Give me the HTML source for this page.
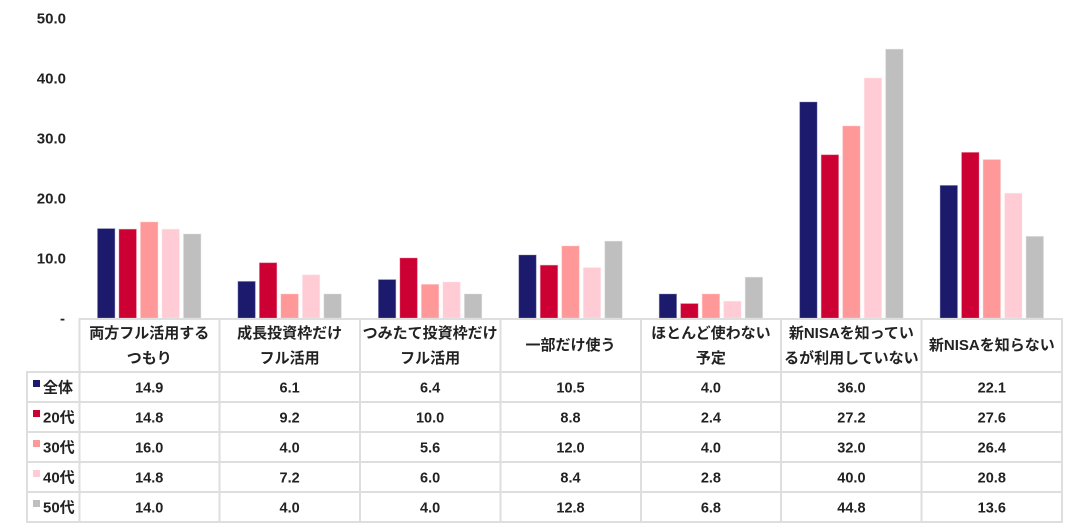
<!DOCTYPE html>
<html><head><meta charset="utf-8"><style>
html,body{margin:0;padding:0;background:#fff;}
svg{display:block;}
text{font-family:"Liberation Sans","Noto Sans CJK JP",sans-serif;font-weight:bold;fill:#222;}
</style></head><body>
<svg width="1080" height="531" viewBox="0 0 1080 531" xmlns="http://www.w3.org/2000/svg">
<!-- y axis labels -->
<g font-size="15" text-anchor="end">
<text x="66" y="23.5">50.0</text>
<text x="66" y="83.5">40.0</text>
<text x="66" y="143.5">30.0</text>
<text x="66" y="203.5">20.0</text>
<text x="66" y="263.5">10.0</text>
<text x="65" y="323.5">-</text>
</g>
<!-- bars -->
<g id="bars" stroke-width="0.8" stroke-opacity="0.5">
<!-- group 1 cx=149.2 -->
<rect x="97.5" y="228.6" width="17.4" height="89.4" fill="#1b1a6c" stroke="#8a8ab8"/>
<rect x="119" y="229.2" width="17.4" height="88.8" fill="#cc0033" stroke="#e87a94"/>
<rect x="140.5" y="222" width="17.4" height="96" fill="#ff9999" stroke="#ffc4c4"/>
<rect x="162" y="229.2" width="17.4" height="88.8" fill="#ffccd6" stroke="#ffe4ea"/>
<rect x="183.5" y="234" width="17.4" height="84" fill="#bfbfbf" stroke="#dcdcdc"/>
<!-- group 2 cx=289.6 -->
<rect x="237.9" y="281.4" width="17.4" height="36.6" fill="#1b1a6c" stroke="#8a8ab8"/>
<rect x="259.4" y="262.8" width="17.4" height="55.2" fill="#cc0033" stroke="#e87a94"/>
<rect x="280.9" y="294" width="17.4" height="24" fill="#ff9999" stroke="#ffc4c4"/>
<rect x="302.4" y="274.8" width="17.4" height="43.2" fill="#ffccd6" stroke="#ffe4ea"/>
<rect x="323.9" y="294" width="17.4" height="24" fill="#bfbfbf" stroke="#dcdcdc"/>
<!-- group 3 cx=430.1 -->
<rect x="378.4" y="279.6" width="17.4" height="38.4" fill="#1b1a6c" stroke="#8a8ab8"/>
<rect x="399.9" y="258" width="17.4" height="60" fill="#cc0033" stroke="#e87a94"/>
<rect x="421.4" y="284.4" width="17.4" height="33.6" fill="#ff9999" stroke="#ffc4c4"/>
<rect x="442.9" y="282" width="17.4" height="36" fill="#ffccd6" stroke="#ffe4ea"/>
<rect x="464.4" y="294" width="17.4" height="24" fill="#bfbfbf" stroke="#dcdcdc"/>
<!-- group 4 cx=570.5 -->
<rect x="518.8" y="255" width="17.4" height="63" fill="#1b1a6c" stroke="#8a8ab8"/>
<rect x="540.3" y="265.2" width="17.4" height="52.8" fill="#cc0033" stroke="#e87a94"/>
<rect x="561.8" y="246" width="17.4" height="72" fill="#ff9999" stroke="#ffc4c4"/>
<rect x="583.3" y="267.6" width="17.4" height="50.4" fill="#ffccd6" stroke="#ffe4ea"/>
<rect x="604.8" y="241.2" width="17.4" height="76.8" fill="#bfbfbf" stroke="#dcdcdc"/>
<!-- group 5 cx=710.9 -->
<rect x="659.2" y="294" width="17.4" height="24" fill="#1b1a6c" stroke="#8a8ab8"/>
<rect x="680.7" y="303.6" width="17.4" height="14.4" fill="#cc0033" stroke="#e87a94"/>
<rect x="702.2" y="294" width="17.4" height="24" fill="#ff9999" stroke="#ffc4c4"/>
<rect x="723.7" y="301.2" width="17.4" height="16.8" fill="#ffccd6" stroke="#ffe4ea"/>
<rect x="745.2" y="277.2" width="17.4" height="40.8" fill="#bfbfbf" stroke="#dcdcdc"/>
<!-- group 6 cx=851.4 -->
<rect x="799.7" y="102" width="17.4" height="216" fill="#1b1a6c" stroke="#8a8ab8"/>
<rect x="821.2" y="154.8" width="17.4" height="163.2" fill="#cc0033" stroke="#e87a94"/>
<rect x="842.7" y="126" width="17.4" height="192" fill="#ff9999" stroke="#ffc4c4"/>
<rect x="864.2" y="78" width="17.4" height="240" fill="#ffccd6" stroke="#ffe4ea"/>
<rect x="885.7" y="49.2" width="17.4" height="268.8" fill="#bfbfbf" stroke="#dcdcdc"/>
<!-- group 7 cx=991.8 -->
<rect x="940.1" y="185.4" width="17.4" height="132.6" fill="#1b1a6c" stroke="#8a8ab8"/>
<rect x="961.6" y="152.4" width="17.4" height="165.6" fill="#cc0033" stroke="#e87a94"/>
<rect x="983.1" y="159.6" width="17.4" height="158.4" fill="#ff9999" stroke="#ffc4c4"/>
<rect x="1004.6" y="193.2" width="17.4" height="124.8" fill="#ffccd6" stroke="#ffe4ea"/>
<rect x="1026.1" y="236.4" width="17.4" height="81.6" fill="#bfbfbf" stroke="#dcdcdc"/>
</g>
<!-- table grid -->
<g stroke="#dedede" stroke-width="2" fill="none">
<line x1="79" y1="319" x2="1062" y2="319"/>
<line x1="27" y1="372" x2="1062" y2="372"/>
<line x1="27" y1="402" x2="1062" y2="402"/>
<line x1="27" y1="432" x2="1062" y2="432"/>
<line x1="27" y1="462" x2="1062" y2="462"/>
<line x1="27" y1="492" x2="1062" y2="492"/>
<line x1="27" y1="522" x2="1062" y2="522"/>
<line x1="27" y1="371" x2="27" y2="523"/>
<line x1="79.5" y1="318" x2="79.5" y2="523"/>
<line x1="219.5" y1="318" x2="219.5" y2="523"/>
<line x1="360" y1="318" x2="360" y2="523"/>
<line x1="500.5" y1="318" x2="500.5" y2="523"/>
<line x1="641" y1="318" x2="641" y2="523"/>
<line x1="781" y1="318" x2="781" y2="523"/>
<line x1="921.5" y1="318" x2="921.5" y2="523"/>
<line x1="1062" y1="318" x2="1062" y2="523"/>
</g>
<!-- headers -->
<g font-size="15" text-anchor="middle">
<text x="149.2" y="338">両方フル活用する</text>
<text x="149.2" y="363">つもり</text>
<text x="289.6" y="338">成長投資枠だけ</text>
<text x="289.6" y="363">フル活用</text>
<text x="430.1" y="338">つみたて投資枠だけ</text>
<text x="430.1" y="363">フル活用</text>
<text x="570.5" y="350">一部だけ使う</text>
<text x="710.9" y="338">ほとんど使わない</text>
<text x="710.9" y="363">予定</text>
<text x="851.4" y="338">新NISAを知ってい</text>
<text x="851.4" y="363">るが利用していない</text>
<text x="991.8" y="350">新NISAを知らない</text>
</g>
<!-- legend -->
<rect x="33" y="380" width="7" height="7" fill="#1b1a6c"/>
<rect x="33" y="410" width="7" height="7" fill="#cc0033"/>
<rect x="33" y="440" width="7" height="7" fill="#ff9999"/>
<rect x="33" y="470" width="7" height="7" fill="#ffccd6"/>
<rect x="33" y="500" width="7" height="7" fill="#bfbfbf"/>
<g font-size="15">
<text x="43" y="392.5">全体</text>
<text x="43" y="422.5">20代</text>
<text x="43" y="452.5">30代</text>
<text x="43" y="482.5">40代</text>
<text x="43" y="512.5">50代</text>
</g>
<!-- values -->
<g font-size="14.5" text-anchor="middle">
<text x="149.2" y="392.5">14.9</text><text x="289.6" y="392.5">6.1</text><text x="430.1" y="392.5">6.4</text><text x="570.5" y="392.5">10.5</text><text x="710.9" y="392.5">4.0</text><text x="851.4" y="392.5">36.0</text><text x="991.8" y="392.5">22.1</text>
<text x="149.2" y="422.5">14.8</text><text x="289.6" y="422.5">9.2</text><text x="430.1" y="422.5">10.0</text><text x="570.5" y="422.5">8.8</text><text x="710.9" y="422.5">2.4</text><text x="851.4" y="422.5">27.2</text><text x="991.8" y="422.5">27.6</text>
<text x="149.2" y="452.5">16.0</text><text x="289.6" y="452.5">4.0</text><text x="430.1" y="452.5">5.6</text><text x="570.5" y="452.5">12.0</text><text x="710.9" y="452.5">4.0</text><text x="851.4" y="452.5">32.0</text><text x="991.8" y="452.5">26.4</text>
<text x="149.2" y="482.5">14.8</text><text x="289.6" y="482.5">7.2</text><text x="430.1" y="482.5">6.0</text><text x="570.5" y="482.5">8.4</text><text x="710.9" y="482.5">2.8</text><text x="851.4" y="482.5">40.0</text><text x="991.8" y="482.5">20.8</text>
<text x="149.2" y="512.5">14.0</text><text x="289.6" y="512.5">4.0</text><text x="430.1" y="512.5">4.0</text><text x="570.5" y="512.5">12.8</text><text x="710.9" y="512.5">6.8</text><text x="851.4" y="512.5">44.8</text><text x="991.8" y="512.5">13.6</text>
</g>
</svg>
</body></html>
